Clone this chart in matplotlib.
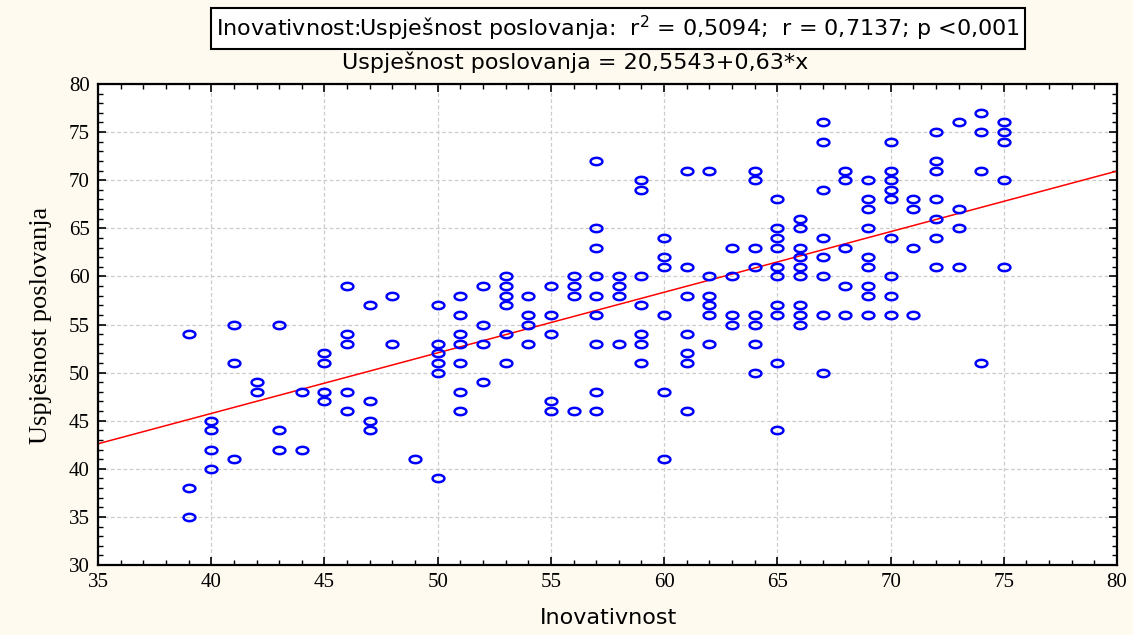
import matplotlib
matplotlib.use('Agg')
import matplotlib.pyplot as plt
import numpy as np
from matplotlib.path import Path
from matplotlib.ticker import MultipleLocator

# Inovativnost (x) vs Uspjesnost poslovanja (y), one line per x value
inov = ([39] * 3 + [40] * 4 + [41] * 3 + [42] * 2 + [43] * 3 + [44] * 2 + [45] * 4
        + [46] * 5 + [47] * 4 + [48] * 2 + [49] * 1 + [50] * 6 + [51] * 7 + [52] * 4
        + [53] * 6 + [54] * 4 + [55] * 5 + [56] * 4 + [57] * 9 + [58] * 4 + [59] * 7
        + [60] * 6 + [61] * 7 + [62] * 6 + [63] * 4 + [64] * 8 + [65] * 10 + [66] * 9
        + [67] * 8 + [68] * 5 + [69] * 9 + [70] * 9 + [71] * 4 + [72] * 7 + [73] * 4
        + [74] * 4 + [75] * 5)

uspj = [54, 38, 35,
        45, 44, 42, 40,
        55, 51, 41,
        49, 48,
        55, 44, 42,
        48, 42,
        52, 51, 48, 47,
        59, 54, 53, 48, 46,
        57, 47, 45, 44,
        58, 53,
        41,
        57, 53, 52, 51, 50, 39,
        58, 56, 54, 53, 51, 48, 46,
        59, 55, 53, 49,
        60, 59, 58, 57, 54, 51,
        58, 56, 55, 53,
        59, 56, 54, 47, 46,
        60, 59, 58, 46,
        72, 65, 63, 60, 58, 56, 53, 48, 46,
        60, 59, 58, 53,
        70, 69, 60, 57, 54, 53, 51,
        64, 62, 61, 56, 48, 41,
        71, 61, 58, 54, 52, 51, 46,
        71, 60, 58, 57, 56, 53,
        63, 60, 56, 55,
        71, 70, 63, 61, 56, 55, 53, 50,
        68, 65, 64, 63, 61, 60, 57, 56, 51, 44,
        66, 65, 63, 62, 61, 60, 57, 56, 55,
        76, 74, 69, 64, 62, 60, 56, 50,
        71, 70, 63, 59, 56,
        70, 68, 67, 65, 62, 61, 59, 58, 56,
        74, 71, 70, 69, 68, 64, 60, 58, 56,
        68, 67, 63, 56,
        75, 72, 71, 68, 66, 64, 61,
        76, 67, 65, 61,
        77, 75, 71, 51,
        76, 75, 74, 70, 61]

# regression from the chart header
intercept = 20.5543
slope = 0.63

x_ticks = [35, 40, 45, 50, 55, 60, 65, 70, 75, 80]
y_ticks = [30, 35, 40, 45, 50, 55, 60, 65, 70, 75, 80]

bg = '#fffaf0'
sans = ['DejaVu Sans']
serif = ['Liberation Serif', 'DejaVu Serif']

fig = plt.figure(figsize=(11.33, 6.35), dpi=100, facecolor=bg)
ax = fig.add_axes([0.0865, 0.1102, 0.8994, 0.7575])

# flat open ellipse like the STATISTICA marker
t = np.linspace(0, 2 * np.pi, 41)
ellipse = Path(np.column_stack([np.cos(t), 0.62 * np.sin(t)]), closed=True)

ax.plot(inov, uspj, linestyle='none', marker=ellipse, markersize=8.5,
        markerfacecolor='none', markeredgecolor='#0000ff', markeredgewidth=1.8,
        zorder=3)

xl = np.array([35, 80])
ax.plot(xl, intercept + slope * xl, color='#ff0000', linewidth=1.1, zorder=2)

ax.set_xlim(35, 80)
ax.set_ylim(30, 80)
ax.set_xticks(x_ticks)
ax.set_yticks(y_ticks)
ax.xaxis.set_minor_locator(MultipleLocator(1))
ax.yaxis.set_minor_locator(MultipleLocator(1))
ax.tick_params(which='both', direction='in', top=True, right=True, color='black')
ax.tick_params(which='major', length=6, width=1.2, pad=6)
ax.tick_params(which='minor', length=3.5, width=1.0)
for lab in ax.get_xticklabels() + ax.get_yticklabels():
    lab.set_family(serif)
    lab.set_fontsize(15)

ax.grid(True, which='major', color='#cccccc', linestyle=(0, (3, 2)), linewidth=0.9)
ax.set_axisbelow(True)
for s in ax.spines.values():
    s.set_linewidth(1.6)
    s.set_color('black')

fig.text(0.5455, 0.955,
         'Inovativnost:Uspješnost poslovanja:  r$^2$ = 0,5094;  r = 0,7137; p <0,001',
         ha='center', va='center', fontsize=16, family=sans,
         bbox=dict(boxstyle='square,pad=0.25', facecolor='white', edgecolor='black', linewidth=1.5))
fig.text(0.5075, 0.902, 'Uspješnost poslovanja = 20,5543+0,63*x',
         ha='center', va='center', fontsize=16, family=sans)
fig.text(0.537, 0.027, 'Inovativnost', ha='center', va='center', fontsize=16, family=sans)
fig.text(0.036, 0.488, 'Uspješnost poslovanja', ha='center', va='center', rotation=90,
         fontsize=19, family=serif)

fig.savefig('out.png', dpi=100, facecolor=bg)
